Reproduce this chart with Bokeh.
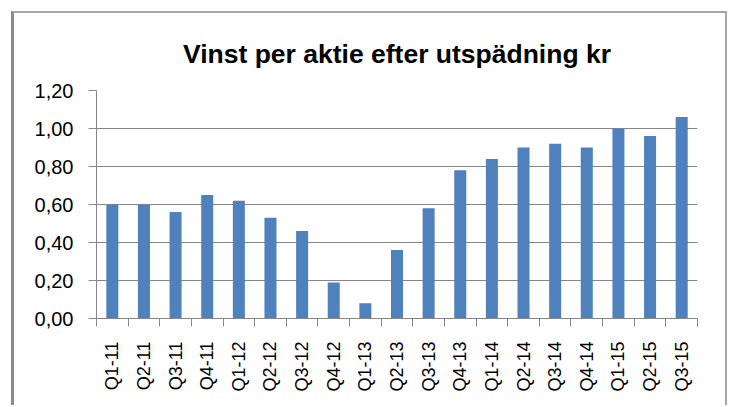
from bokeh.plotting import figure
from bokeh.models import Range1d, FixedTicker
from bokeh.embed import file_html
from bokeh.resources import INLINE
from math import pi

categories = ["Q1-11", "Q2-11", "Q3-11", "Q4-11", "Q1-12", "Q2-12", "Q3-12", "Q4-12",
              "Q1-13", "Q2-13", "Q3-13", "Q4-13", "Q1-14", "Q2-14", "Q3-14", "Q4-14",
              "Q1-15", "Q2-15", "Q3-15"]
values = [0.60, 0.60, 0.56, 0.65, 0.62, 0.53, 0.46, 0.19,
          0.08, 0.36, 0.58, 0.78, 0.84, 0.90, 0.92, 0.90,
          1.00, 0.96, 1.06]
y_ticks = [0.0, 0.2, 0.4, 0.6, 0.8, 1.0, 1.2]
y_labels = ["0,00", "0,20", "0,40", "0,60", "0,80", "1,00", "1,20"]
title_text = "Vinst per aktie efter utspädning kr"

n = len(categories)
centers = [i + 0.5 for i in range(n)]
bounds = list(range(n + 1))

FONT = "Liberation Sans"
GRID = "#868686"

p = figure(width=716, height=394, output_backend="svg", toolbar_location=None,
           x_range=Range1d(0, n), y_range=Range1d(0, 1.2),
           min_border_left=82, min_border_right=33, min_border_top=77, min_border_bottom=89,
           title=title_text)
p.styles = {"margin-left": "11px", "margin-top": "11px", "box-sizing": "border-box",
            "border-left": "3px solid #8a8a8a", "border-top": "2px solid #a6a6a6",
            "border-right": "2px solid #a6a6a6"}
p.border_fill_alpha = 0

p.vbar(x=centers, top=values, width=0.38, bottom=0, color="#4F81BD", line_color=None)

p.title.align = "center"
p.title.text_font = FONT
p.title.text_font_size = "26.5px"
p.title.text_font_style = "bold"
p.title.text_color = "black"
p.title.standoff = 43

p.outline_line_color = None
p.xgrid.grid_line_color = None
p.ygrid.grid_line_color = GRID
p.ygrid.grid_line_width = 1

xa = p.xaxis[0]
xa.ticker = FixedTicker(ticks=centers, minor_ticks=bounds)
xa.major_label_overrides = {c: lab for c, lab in zip(centers, categories)}
xa.major_label_orientation = pi / 2
xa.major_tick_out = 0
xa.major_tick_in = 0
xa.minor_tick_out = 8
xa.minor_tick_in = 0
xa.minor_tick_line_color = GRID
xa.axis_line_color = GRID
xa.major_label_standoff = 15
xa.major_label_text_font = FONT
xa.major_label_text_font_size = "18px"
xa.major_label_text_color = "black"

ya = p.yaxis[0]
ya.ticker = FixedTicker(ticks=y_ticks)
ya.major_label_overrides = {t: lab for t, lab in zip(y_ticks, y_labels)}
ya.major_tick_out = 8
ya.major_tick_in = 0
ya.minor_tick_line_color = None
ya.major_tick_line_color = GRID
ya.axis_line_color = GRID
ya.major_label_standoff = 15
ya.major_label_text_font = FONT
ya.major_label_text_font_size = "20px"
ya.major_label_text_color = "black"

open("out.html", "w").write(file_html(p, INLINE))
